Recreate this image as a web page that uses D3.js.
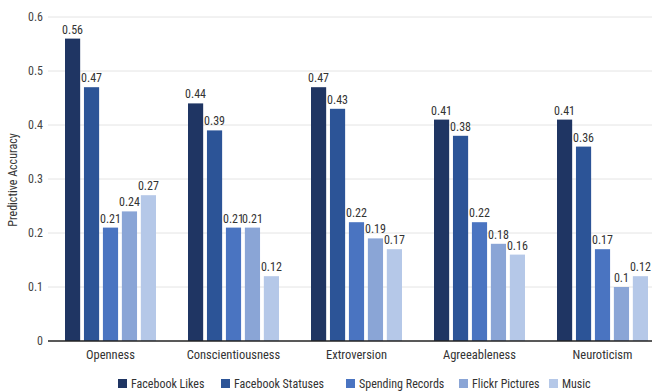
<!DOCTYPE html>
<html>
<head>
<meta charset="utf-8">
<script src="https://cdn.jsdelivr.net/npm/d3@7"></script>
<style>
body{margin:0;background:#fff;}
text{font-family:"Liberation Sans Narrow","Roboto Condensed","Liberation Sans",Arial,sans-serif;}
</style>
</head>
<body>
<svg id="viz" width="652" height="391"></svg>
<script>
// traits on the x axis, one group each
const traits = ["Openness","Conscientiousness","Extroversion","Agreeableness","Neuroticism"];
const sources = ["Facebook Likes","Facebook Statuses","Spending Records","Flickr Pictures","Music"];
const likes = [0.56,0.44,0.47,0.41,0.41];
const statuses = [0.47,0.39,0.43,0.38,0.36];
const spending = [0.21,0.21,0.22,0.22,0.17];
const flickr = [0.24,0.21,0.19,0.18,0.10];
const music = [0.27,0.12,0.17,0.16,0.12];
const yTicks = [0,0.1,0.2,0.3,0.4,0.5,0.6];
const colors = ["#1f3563","#2c5497","#4a74c1","#8aa5d6","#b5c8e8"];

const seriesValues = [likes,statuses,spending,flickr,music];
const data = traits.map((t,i)=>({
    trait:t,
    vals:sources.map((s,j)=>({source:s,value:seriesValues[j][i]}))
}));

const svg = d3.select("#viz");

const x0 = d3.scaleBand().domain(traits).range([49,664]);
const x1 = d3.scaleBand().domain(sources).range([16,107]).paddingInner(0.2);
const y = d3.scaleLinear().domain([0,0.6]).range([341,17]);
const color = d3.scaleOrdinal().domain(sources).range(colors);

// grid
svg.append("g").selectAll("line")
    .data(yTicks.slice(1))
    .join("line")
    .attr("x1",48).attr("x2",652)
    .attr("y1",d=>y(d)).attr("y2",d=>y(d))
    .attr("stroke","#e4e4e4").attr("stroke-width",1);

// y axis labels
const yAxis = svg.append("g")
    .attr("transform","translate(47,0)")
    .call(d3.axisLeft(y).tickValues(yTicks).tickFormat(d=>d3.format("")(d)).tickSize(0).tickPadding(4));
yAxis.select(".domain").remove();
yAxis.selectAll("text").attr("fill","#444").style("font-size","12px");

svg.append("text")
    .attr("transform","translate(17,180) rotate(-90)")
    .attr("text-anchor","middle")
    .attr("fill","#333")
    .style("font-size","12px")
    .text("Predictive Accuracy");

// bars
const groups = svg.append("g").selectAll("g")
    .data(data)
    .join("g")
    .attr("transform",d=>`translate(${x0(d.trait)},0)`);

groups.selectAll("rect")
    .data(d=>d.vals)
    .join("rect")
    .attr("x",d=>x1(d.source))
    .attr("width",x1.bandwidth())
    .attr("y",d=>y(d.value))
    .attr("height",d=>y(0)-y(d.value))
    .attr("fill",d=>color(d.source));

groups.selectAll("text")
    .data(d=>d.vals)
    .join("text")
    .attr("x",d=>x1(d.source)+x1.bandwidth()/2)
    .attr("y",d=>y(d.value)-5)
    .attr("text-anchor","middle")
    .attr("fill","#333")
    .style("font-size","12px")
    .text(d=>d3.format("")(d.value));

// baseline
svg.append("line")
    .attr("x1",48).attr("x2",652)
    .attr("y1",y(0)).attr("y2",y(0))
    .attr("stroke","#222").attr("stroke-width",1.5);

// category labels
svg.append("g").selectAll("text")
    .data(traits)
    .join("text")
    .attr("x",d=>x0(d)+61.5)
    .attr("y",359)
    .attr("text-anchor","middle")
    .attr("fill","#333")
    .style("font-size","12.5px")
    .text(d=>d);

// legend
const legendX = [118,221,346,459,549];
const legend = svg.append("g").selectAll("g")
    .data(sources)
    .join("g")
    .attr("transform",(d,i)=>`translate(${legendX[i]},379)`);
legend.append("rect").attr("width",9).attr("height",9).attr("fill",d=>color(d));
legend.append("text")
    .attr("x",13).attr("y",9)
    .attr("fill","#333")
    .style("font-size","12px")
    .text(d=>d);
</script>
</body>
</html>
